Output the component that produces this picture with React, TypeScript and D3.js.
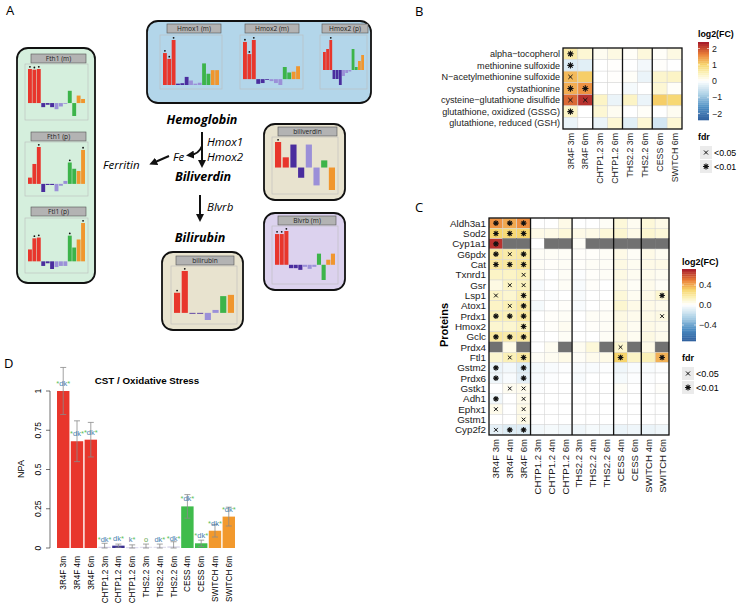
import React from "react";
import * as d3 from "d3";

const SANS = "'Liberation Sans', Arial, sans-serif";
const FA = "'Open Sans', 'Noto Sans', sans-serif";

// ---------- Panel A mini charts ----------
const RED = "#e8362c", DPUR = "#4a2d9e", LPUR = "#9b90d8", GRN = "#3cb44a", ORG = "#f0962e";
const colors13 = [RED, RED, RED, DPUR, DPUR, DPUR, LPUR, LPUR, LPUR, GRN, GRN, ORG, ORG];
const colors8 = [RED, RED, DPUR, DPUR, LPUR, LPUR, GRN, ORG];

const fth1m = [1.0, 0.98, 1.0, -0.12, -0.05, -0.12, -0.18, -0.1, -0.02, 0.36, -0.38, 0.22, 0.12];
const fth1p = [0.17, 0.54, 1.0, -0.22, -0.03, -0.03, -0.2, -0.05, 0.08, 0.58, 0.41, 0.35, 0.92];
const ftl1p = [0.31, 0.6, 0.62, -0.12, -0.05, -0.2, -0.15, -0.12, -0.12, 0.67, 0.36, 0.57, 1.0];
const hmox1m = [0.71, 0.58, 1.0, 0.03, 0.04, 0.18, 0.1, 0.03, 0.05, 0.48, 0.25, 0.33, 0.33];
const hmox2m = [0.95, 0.64, 1.0, -0.12, -0.1, 0.0, -0.05, -0.1, -0.15, 0.31, 0.17, 0.19, 0.33];
const hmox2p = [0.6, 0.7, 1.0, -0.3, -0.3, -0.5, -0.2, -0.1, -0.05, 0.7, 0.1, 0.3, 0.5];
const biliverdinV = [1.0, 0.4, 0.9, -0.4, 0.9, -0.7, 0.28, -0.88];
const bilirubinV = [0.48, 1.0, -0.02, -0.02, -0.17, 0.07, 0.4, 0.43];
const blvrbm = [0.91, 0.91, 1.0, -0.1, -0.1, -0.15, -0.06, -0.12, -0.06, 0.33, -0.45, 0.15, 0.33];

// ---------- Panel B ----------
const bRows = ["alpha\u2212tocopherol", "methionine sulfoxide", "N\u2212acetylmethionine sulfoxide", "cystathionine", "cysteine\u2212glutathione disulfide", "glutathione, oxidized (GSSG)", "glutathione, reduced (GSH)"];
const bCols = ["3R4F 3m", "3R4F 6m", "CHTP1.2 3m", "CHTP1.2 6m", "THS2.2 3m", "THS2.2 6m", "CESS 6m", "SWITCH 6m"];
const bValues = [
  [0.6, 0.3, 0.1, 0.2, 0.05, 0.25, 0.05, 0.2],
  [-0.35, -0.3, 0.0, 0.02, 0.0, -0.12, 0.03, 0.0],
  [1.2, 1.05, 0.0, 0.02, 0.05, -0.2, 0.35, 0.4],
  [1.3, 1.5, 0.0, 0.0, -0.1, 0.0, 0.3, 0.05],
  [1.8, 2.2, 0.4, -0.2, 0.4, -0.2, 1.05, 0.95],
  [0.4, 0.0, 0.3, 0.1, 0.0, 0.05, 0.0, 0.1],
  [-0.2, 0.0, -0.2, 0.3, -0.3, 0.3, -0.45, 0.3],
];
const bSig = ["2.......", "2.......", "1.......", "22......", "11......", "2.......", "........"];
const bGroups = [2, 4, 6];
const bTicks = [2, 1, 0, -1, -2];

// ---------- Panel C ----------
const cRows = ["Aldh3a1", "Sod2", "Cyp1a1", "G6pdx", "Cat", "Txnrd1", "Gsr", "Lsp1", "Atox1", "Prdx1", "Hmox2", "Gclc", "Prdx4", "Ftl1", "Gstm2", "Prdx6", "Gstk1", "Adh1", "Ephx1", "Gstm1", "Cyp2f2"];
const cCols = ["3R4F 3m", "3R4F 4m", "3R4F 6m", "CHTP1.2 3m", "CHTP1.2 4m", "CHTP1.2 6m", "THS2.2 3m", "THS2.2 4m", "THS2.2 6m", "CESS 4m", "CESS 6m", "SWITCH 4m", "SWITCH 6m"];
const N = null;
const cValues: (number | null)[][] = [
  [0.45, 0.4, 0.46, 0, 0, 0.05, 0, 0, 0.02, 0.08, 0.03, 0.08, 0.05],
  [0.3, 0.28, 0.3, 0.05, 0.05, 0.08, 0.05, 0.05, 0.08, 0.1, 0.05, 0.1, 0.08],
  [0.66, N, N, 0, N, N, 0.02, N, N, N, N, N, N],
  [0.2, 0.18, 0.2, 0.02, 0.02, 0.02, 0.01, 0.01, 0.02, 0.05, 0.02, 0.05, 0.03],
  [0.2, 0.2, 0.22, 0.02, 0.01, 0.02, 0.01, 0.02, 0.02, 0.06, 0.03, 0.05, 0.05],
  [0.12, 0.12, 0.15, 0.01, 0, 0.02, -0.01, 0.01, 0.02, 0.06, 0.03, 0.04, 0.03],
  [0.06, 0.12, 0.14, -0.02, 0, 0.02, -0.02, 0.01, 0, 0.05, 0.02, 0.04, 0.02],
  [0.12, 0.1, 0.16, 0, -0.01, 0, -0.02, 0, 0, 0.08, 0.03, 0.05, 0.1],
  [0.12, 0.15, 0.2, -0.03, 0, 0.01, -0.02, 0, 0.01, 0.1, 0.05, 0.05, 0.04],
  [0.15, 0.15, 0.2, 0, 0.01, 0.02, 0, 0.02, 0.02, 0.06, 0.04, 0.05, 0.06],
  [0.1, 0.1, 0.14, 0, 0.01, 0.03, 0, 0.01, 0.02, 0.06, 0.03, 0.05, 0.04],
  [0.2, 0.18, 0.2, 0, 0, 0.02, 0, 0, 0.02, 0.06, 0.03, 0.06, 0.04],
  [N, 0.05, N, 0, 0.03, N, 0.03, 0.08, N, 0.1, N, 0.05, N],
  [0.1, 0.15, 0.2, 0.02, 0.03, 0.05, 0.02, 0.04, 0.05, 0.3, 0.12, 0.15, 0.38],
  [-0.06, -0.04, -0.1, -0.03, -0.02, -0.01, -0.02, -0.02, -0.01, -0.05, -0.02, -0.02, -0.01],
  [-0.05, -0.02, -0.08, -0.02, -0.01, 0, -0.02, 0, 0, -0.03, -0.01, -0.01, 0],
  [0, 0.03, 0.04, -0.01, 0, 0, 0, 0, 0, 0.02, 0, 0, 0.01],
  [-0.04, 0, 0.04, 0, 0, 0, 0, 0, 0, 0, 0, 0, 0],
  [0.04, 0, 0.05, 0, 0, 0, 0, 0, 0, 0, 0, 0, 0],
  [0, 0, 0.05, 0, 0, 0, 0, 0, 0, 0, 0, 0, 0],
  [-0.08, -0.1, -0.1, -0.04, -0.03, -0.04, -0.05, -0.03, -0.04, -0.06, -0.05, -0.06, -0.05],
];
const cSig = [
  "222..........", "222..........", "2............", "212..........", "222..........",
  "..1..........", ".11..........", "1.2.........2", ".12..........", "222.........1",
  "..2..........", "222..........", ".........1...", ".12......2..2", "2.2..........",
  "2.2..........", ".11..........", "2.1..........", "1.1..........", "..1..........", "122..........",
];
const cGroups = [3, 6, 9, 11];
const cTicks = [0.4, 0.0, -0.4];

// ---------- Panel D ----------
const dCats = ["3R4F 3m", "3R4F 4m", "3R4F 6m", "CHTP1.2 3m", "CHTP1.2 4m", "CHTP1.2 6m", "THS2.2 3m", "THS2.2 4m", "THS2.2 6m", "CESS 4m", "CESS 6m", "SWITCH 4m", "SWITCH 6m"];
const dValues = [1.0, 0.68, 0.69, 0.008, 0.015, 0.005, 0.008, 0.008, 0.012, 0.265, 0.03, 0.11, 0.2];
const dLow = [0.85, 0.55, 0.58, 0.0, 0.005, 0.0, 0.0, 0.0, 0.0, 0.19, 0.01, 0.07, 0.14];
const dHigh = [1.15, 0.81, 0.8, 0.03, 0.025, 0.02, 0.025, 0.025, 0.04, 0.34, 0.05, 0.15, 0.26];
const dColors = [RED, RED, RED, "#d8d4ec", "#3b2f93", "#d8d4ec", "#e2e0ee", "#e2e0ee", "#e2e0ee", "#3fbc4c", "#3fbc4c", "#f2992d", "#f2992d"];
const dAnnot = ["*dk*", "*dk*", "*dk*", "*dk*", "dk*", "k*", "o", "dk*", "*dk*", "*dk*", "*dk*", "*dk*", "*dk*"];
const dTicks = [0, 0.25, 0.5, 0.75, 1];

// ---------- helpers ----------
const fcColor = d3.scaleLinear<string>()
  .domain([-2.4, -1.6, -0.8, 0, 0.5, 1, 1.6, 2.4])
  .range(["#2f5e9d", "#4f8fc4", "#b0d3e7", "#ffffff", "#fbf1b8", "#f7d56c", "#ec8439", "#a5172a"])
  .clamp(true);

function starPath(cx: number, cy: number, r: number) {
  let d = "";
  for (let i = 0; i < 4; i++) {
    const a = (i * Math.PI) / 4;
    const dx = r * Math.cos(a), dy = r * Math.sin(a);
    d += `M${cx - dx},${cy - dy}L${cx + dx},${cy + dy}`;
  }
  return d;
}
function crossPath(cx: number, cy: number, r: number) {
  return `M${cx - r},${cy - r}L${cx + r},${cy + r}M${cx - r},${cy + r}L${cx + r},${cy - r}`;
}
function Sym({ t, cx, cy, s = 1 }: { t: string; cx: number; cy: number; s?: number }) {
  if (t === "2") return <path d={starPath(cx, cy, 3 * s)} stroke="#111" strokeWidth={1.1} />;
  if (t === "1") return <path d={crossPath(cx, cy, 2 * s)} stroke="#111" strokeWidth={1} />;
  return null;
}

type MiniProps = { x: number; y: number; w: number; h: number; title: string; tx: number; ty: number; tw: number; values: number[]; stars: number[] };
function Mini({ x, y, w, h, title, tx, ty, tw, values, stars }: MiniProps) {
  const cols = values.length === 13 ? colors13 : colors8;
  const xs = d3.scaleBand<number>().domain(d3.range(values.length)).range([x + 3, x + w - 3]).paddingInner(values.length === 13 ? 0.12 : 0.2);
  const lo = Math.min(0, d3.min(values)!), hi = d3.max(values)!;
  const ys = d3.scaleLinear().domain([lo, hi]).range([y + h - 4, y + 5]);
  return (
    <g>
      <rect x={tx} y={ty} width={tw} height={9} fill="#b3b3b3" stroke="#555" strokeWidth={0.6} />
      <text x={tx + tw / 2} y={ty + 6.8} fontSize={6.6} fontFamily={FA} textAnchor="middle" fill="#222">{title}</text>
      <rect x={x} y={y} width={w} height={h} fill="none" stroke="#bdbdbd" strokeWidth={0.6} />
      {values.map((v, i) => (
        <rect key={i} x={xs(i)!} width={xs.bandwidth()} y={ys(Math.max(0, v))} height={Math.max(0.8, Math.abs(ys(v) - ys(0)))} fill={cols[i]} />
      ))}
      {stars.map((i) => (
        <circle key={"s" + i} cx={xs(i)! + xs.bandwidth() / 2} cy={ys(Math.max(0, values[i])) - 2.2} r={0.9} fill="#111" />
      ))}
    </g>
  );
}

function Box({ x, y, w, h, fill }: { x: number; y: number; w: number; h: number; fill: string }) {
  return <rect x={x} y={y} width={w} height={h} rx={11} ry={11} fill={fill} stroke="#111" strokeWidth={1.8} />;
}

function PanelA() {
  return (
    <g>
      <text x={6} y={15} fontSize={13} fontFamily={FA}>A</text>
      <Box x={17} y={48} w={78} h={235} fill="#d5efdd" />
      <Mini x={25} y={64} w={63} h={56} title="Fth1 (m)" tx={31} ty={54} tw={55} values={fth1m} stars={[0, 1, 2]} />
      <Mini x={25} y={142} w={63} h={54} title="Fth1 (p)" tx={31} ty={132} tw={55} values={fth1p} stars={[2, 9, 12]} />
      <Mini x={25} y={218} w={63} h={55} title="Ftl1 (p)" tx={31} ty={207} tw={55} values={ftl1p} stars={[1, 2, 9, 12]} />

      <Box x={147} y={21} w={224} h={82} fill="#b3d6ea" />
      <Mini x={160} y={35} w={62} h={54} title="Hmox1 (m)" tx={167} ty={24} tw={54} values={hmox1m} stars={[0, 1, 2]} />
      <Mini x={240} y={35} w={63} h={54} title="Hmox2 (m)" tx={245} ty={24} tw={54} values={hmox2m} stars={[0, 1, 2]} />
      <Mini x={320} y={35} w={47} h={54} title="Hmox2 (p)" tx={322} ty={24} tw={46} values={hmox2p} stars={[2]} />

      <Box x={264} y={124} w={81} h={76} fill="#e8e3cf" />
      <Mini x={272} y={137} w={66} h={57} title="biliverdin" tx={278} ty={127} tw={59} values={biliverdinV} stars={[0]} />
      <Box x={264} y={213} w={81} h={77} fill="#dcd2ee" />
      <Mini x={272} y={226} w={66} h={58} title="Blvrb (m)" tx={278} ty={216} tw={58} values={blvrbm} stars={[0, 1, 2]} />
      <Box x={162} y={252} w={81} h={78} fill="#e8e3cf" />
      <Mini x={171} y={266} w={66} h={58} title="bilirubin" tx={176} ty={256} tw={58} values={bilirubinV} stars={[0, 1]} />

      <defs>
        <marker id="ah" viewBox="0 0 10 10" refX="5" refY="5" markerWidth="4" markerHeight="4" orient="auto-start-reverse">
          <path d="M0,0L10,5L0,10z" fill="#111" />
        </marker>
      </defs>
      <text x={202} y={124} fontSize={12.5} fontFamily={FA} fontWeight="bold" fontStyle="italic" textAnchor="middle">Hemoglobin</text>
      <line x1={202} y1={132} x2={202} y2={164} stroke="#111" strokeWidth={2} markerEnd="url(#ah)" />
      <path d="M202,146 Q199,154 190,155" fill="none" stroke="#111" strokeWidth={2} markerEnd="url(#ah)" />
      <text x={207} y={146} fontSize={11.5} fontFamily={FA} fontStyle="italic">Hmox1</text>
      <text x={207} y={161} fontSize={11.5} fontFamily={FA} fontStyle="italic">Hmox2</text>
      <text x={173} y={161} fontSize={11.5} fontFamily={FA} fontStyle="italic">Fe</text>
      <line x1={169} y1={156} x2={153} y2={163} stroke="#111" strokeWidth={2} markerEnd="url(#ah)" />
      <text x={103} y={169} fontSize={11.5} fontFamily={FA} fontStyle="italic">Ferritin</text>
      <text x={203} y={181} fontSize={12.5} fontFamily={FA} fontWeight="bold" fontStyle="italic" textAnchor="middle">Biliverdin</text>
      <line x1={200} y1={195} x2={200} y2={218} stroke="#111" strokeWidth={2} markerEnd="url(#ah)" />
      <text x={207} y={211} fontSize={11.5} fontFamily={FA} fontStyle="italic">Blvrb</text>
      <text x={200} y={242} fontSize={12.5} fontFamily={FA} fontWeight="bold" fontStyle="italic" textAnchor="middle">Bilirubin</text>
    </g>
  );
}

type HeatProps = {
  x0: number; y0: number; w: number; h: number; rows: string[]; cols: string[];
  values: (number | null)[][]; sig: string[]; groups: number[]; scaleMax: number; fs: number; cfs: number; symScale: number;
};
function Heat({ x0, y0, w, h, rows, cols, values, sig, groups, scaleMax, fs, cfs, symScale }: HeatProps) {
  const xs = d3.scaleBand<number>().domain(d3.range(cols.length)).range([x0, x0 + w]);
  const ys = d3.scaleBand<number>().domain(d3.range(rows.length)).range([y0, y0 + h]);
  const f = 2.4 / scaleMax;
  return (
    <g>
      {values.map((row, r) => row.map((v, c) => (
        <rect key={r + "-" + c} x={xs(c)!} y={ys(r)!} width={xs.bandwidth()} height={ys.bandwidth()}
          fill={v === null ? "#717171" : fcColor(v * f)} stroke={v === null ? "#717171" : "#d6d6d6"} strokeWidth={0.5} />
      )))}
      {sig.map((s, r) => s.split("").map((t, c) => (
        <Sym key={"g" + r + "-" + c} t={t} cx={xs(c)! + xs.bandwidth() / 2} cy={ys(r)! + ys.bandwidth() / 2} s={symScale} />
      )))}
      {groups.map((g) => (
        <line key={"gl" + g} x1={xs(g)!} x2={xs(g)!} y1={y0} y2={y0 + h} stroke="#111" strokeWidth={1.3} />
      ))}
      <rect x={x0} y={y0} width={w} height={h} fill="none" stroke="#111" strokeWidth={1.3} />
      {rows.map((r, i) => (
        <text key={r} x={x0 - 3} y={ys(i)! + ys.bandwidth() / 2 + fs * 0.36} fontSize={fs} fontFamily={SANS} textAnchor="end" fill="#1a1a1a">{r}</text>
      ))}
      {cols.map((c, i) => {
        const cx = xs(i)! + xs.bandwidth() / 2 + cfs * 0.36;
        const cy = y0 + h + 4;
        return (
          <text key={c} x={cx} y={cy} fontSize={cfs} fontFamily={SANS} textAnchor="end" fill="#1a1a1a" transform={`rotate(-90 ${cx} ${cy})`}>{c}</text>
        );
      })}
    </g>
  );
}

function ColorLegend({ x, y, w, h, max, ticks, fmt, titleY, fdrY, fs, lx }: { x: number; y: number; w: number; h: number; max: number; ticks: number[]; fmt: (v: number) => string; titleY: number; fdrY: number; fs: number; lx: number }) {
  const ys = d3.scaleLinear().domain([max, -max]).range([y, y + h]);
  const n = 40;
  const f = 2.4 / max;
  return (
    <g>
      <text x={x} y={titleY} fontSize={fs} fontFamily={SANS} fontWeight="bold">log2(FC)</text>
      {d3.range(n).map((i) => {
        const v = max - ((i + 0.5) * 2 * max) / n;
        return <rect key={i} x={x} y={y + (i * h) / n} width={w} height={h / n + 0.3} fill={fcColor(v * f)} />;
      })}
      {ticks.map((t) => (
        <g key={t}>
          <line x1={x} x2={x + 2} y1={ys(t)} y2={ys(t)} stroke="#fff" strokeWidth={0.6} />
          <line x1={x + w - 2} x2={x + w} y1={ys(t)} y2={ys(t)} stroke="#fff" strokeWidth={0.6} />
          <text x={x + w + 3} y={ys(t) + fs * 0.36} fontSize={fs} fontFamily={SANS} fill="#1a1a1a">{fmt(t)}</text>
        </g>
      ))}
      <text x={x} y={fdrY} fontSize={fs} fontFamily={SANS} fontWeight="bold">fdr</text>
      <rect x={lx} y={fdrY + 6} width={12} height={13} fill="#ebebeb" />
      <Sym t="1" cx={lx + 6} cy={fdrY + 12.5} />
      <text x={lx + 14} y={fdrY + 15.5} fontSize={fs} fontFamily={SANS}>{"<0.05"}</text>
      <rect x={lx} y={fdrY + 20} width={12} height={13} fill="#ebebeb" />
      <Sym t="2" cx={lx + 6} cy={fdrY + 26.5} />
      <text x={lx + 14} y={fdrY + 29.5} fontSize={fs} fontFamily={SANS}>{"<0.01"}</text>
    </g>
  );
}

const minus = (s: string) => s.replace("-", "\u2212");

function PanelB() {
  return (
    <g>
      <text x={415} y={16} fontSize={13} fontFamily={FA}>B</text>
      <Heat x0={563} y0={48} w={119} h={81} rows={bRows} cols={bCols} values={bValues} sig={bSig} groups={bGroups} scaleMax={2.4} fs={9.1} cfs={8.8} symScale={1.05} />
      <ColorLegend x={698} y={42} w={11} h={78} max={2.4} ticks={bTicks} fmt={(v) => minus(String(v))} titleY={37} fdrY={140} fs={8.8} lx={700} />
    </g>
  );
}

function PanelC() {
  return (
    <g>
      <text x={415} y={212} fontSize={13} fontFamily={FA}>C</text>
      <Heat x0={489} y0={218} w={180} h={217} rows={cRows} cols={cCols} values={cValues} sig={cSig} groups={cGroups} scaleMax={0.72} fs={9.8} cfs={9.6} symScale={0.95} />
      <ColorLegend x={682} y={269} w={14} h={72} max={0.72} ticks={cTicks} fmt={(v) => minus(v.toFixed(1))} titleY={265} fdrY={361} fs={9} lx={682} />
      <text x={448} y={325} fontSize={11} fontFamily={SANS} fontWeight="bold" textAnchor="middle" transform="rotate(-90 448 325)">Proteins</text>
    </g>
  );
}

function PanelD() {
  const xs = d3.scaleBand<string>().domain(dCats).range([57, 235]).paddingInner(0.1);
  const ys = d3.scaleLinear().domain([0, 1]).range([548, 391]);
  return (
    <g>
      <text x={4} y={368} fontSize={13} fontFamily={FA}>D</text>
      <text x={147} y={384} fontSize={9.8} fontFamily={SANS} fontWeight="bold" textAnchor="middle">CST / Oxidative Stress</text>
      <line x1={50} x2={50} y1={ys(0)} y2={ys(1)} stroke="#333" strokeWidth={0.7} />
      {dTicks.map((t) => (
        <g key={t}>
          <line x1={46} x2={50} y1={ys(t)} y2={ys(t)} stroke="#333" strokeWidth={0.7} />
          <text x={41} y={ys(t)} fontSize={8.5} fontFamily={SANS} textAnchor="middle" transform={`rotate(-90 41 ${ys(t)})`}>{String(t)}</text>
        </g>
      ))}
      <text x={24} y={469} fontSize={9} fontFamily={SANS} textAnchor="middle" transform="rotate(-90 24 469)">NPA</text>
      {dCats.map((c, i) => {
        const x = xs(c)!, bw = xs.bandwidth(), cx = x + bw / 2;
        const ann = dAnnot[i];
        return (
          <g key={c}>
            <rect x={x} y={ys(dValues[i])} width={bw} height={Math.max(1, ys(0) - ys(dValues[i]))} fill={dColors[i]} />
            <line x1={cx} x2={cx} y1={ys(dLow[i])} y2={ys(dHigh[i])} stroke="#8a8a8a" strokeWidth={0.8} />
            <line x1={cx - 3} x2={cx + 3} y1={ys(dHigh[i])} y2={ys(dHigh[i])} stroke="#8a8a8a" strokeWidth={0.8} />
            <line x1={cx - 3} x2={cx + 3} y1={ys(dLow[i])} y2={ys(dLow[i])} stroke="#8a8a8a" strokeWidth={0.8} />
            <text x={cx} y={ys(dValues[i]) - 5} fontSize={7.5} fontFamily={SANS} textAnchor="middle">
              {ann.split("").map((ch, k) => (
                <tspan key={k} fill={ch === "*" ? "#5cbf5a" : ch === "o" ? "#6aa84f" : "#4a7fb0"}>{ch}</tspan>
              ))}
            </text>
            <text x={cx + 3} y={556} fontSize={8.2} fontFamily={SANS} textAnchor="end" transform={`rotate(-90 ${cx + 3} 556)`}>{c}</text>
          </g>
        );
      })}
    </g>
  );
}

export default function App() {
  return (
    <svg width={739} height={606} viewBox="0 0 739 606" style={{ position: "absolute", left: 0, top: 0, background: "#fff" }}>
      <rect width={739} height={606} fill="#fff" />
      <PanelA />
      <PanelB />
      <PanelC />
      <PanelD />
    </svg>
  );
}
